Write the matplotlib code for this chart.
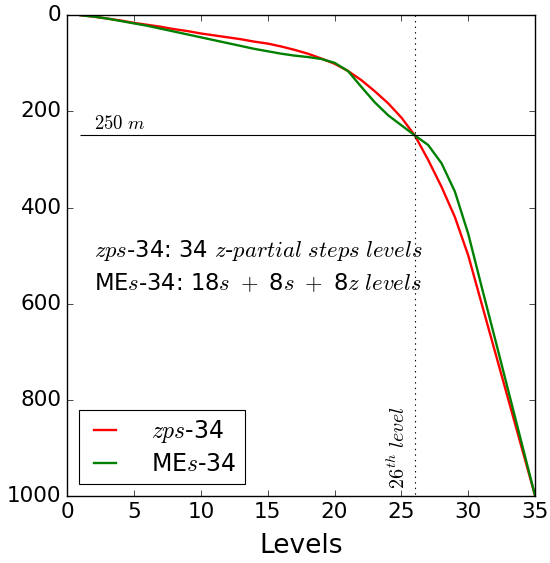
import matplotlib
matplotlib.use('Agg')
import matplotlib.pyplot as plt

# vertical levels and their depths (m)
levels = list(range(1, 36))
zps_depth = [0, 3, 7, 11, 16, 20, 24, 29, 33, 38,
             42, 46, 50, 55, 59, 65, 72, 80, 90, 101,
             116, 135, 158, 183, 213, 250, 301, 357, 420, 500,
             600, 700, 800, 900, 1000]
mes_depth = [0, 3, 7, 12, 17, 22, 28, 34, 40, 46,
             52, 58, 64, 70, 75, 80, 84, 87, 91, 99,
             116, 149, 181, 208, 229, 250, 270, 308, 367, 455,
             565, 673, 782, 891, 1000]

ref_depth = 250
ref_level = 26

plt.style.use('classic')
plt.rcParams['mathtext.fontset'] = 'cm'
plt.rcParams['font.family'] = ['DejaVu Sans']

fig = plt.figure(figsize=(5.5, 5.63), dpi=100, facecolor='white')
ax = fig.add_axes([0.122, 0.119, 0.851, 0.854])

ax.plot(levels, zps_depth, color='red', lw=1.7, label=r'$zps$-34')
ax.plot(levels, mes_depth, color='green', lw=1.7, label=r'ME$s$-34')

ax.hlines(ref_depth, 1, 35, color='black', lw=0.8)
ax.vlines(ref_level, 0, 1000, color='black', lw=0.8, linestyles='dotted')

ax.text(2, ref_depth - 5, r'$250\ m$', fontsize=13.5, va='bottom', ha='left')
ax.text(25.6, 985, r'$26^{th}\ level$', fontsize=14.5, rotation=90,
        va='bottom', ha='right')
ax.text(2, 490, r'$zps$-34: 34 $z$-$partial\ steps\ levels$', fontsize=16.3,
        va='center')
ax.text(2, 559, r'ME$s$-34: 18$s\ +$ 8$s\ +$ 8$z\ levels$', fontsize=16.3,
        va='center')

ax.set_xlim(0, 35)
ax.set_ylim(1000, 0)
ax.set_xticks(range(0, 36, 5))
ax.set_yticks(range(0, 1001, 200))
ax.tick_params(labelsize=15.5)
ax.set_xlabel('Levels', fontsize=19, labelpad=8)

leg = ax.legend(loc='lower left', fontsize=17, handlelength=1.5,
                handletextpad=1.2, borderaxespad=0.5, labelspacing=0.3,
                borderpad=0.35)
leg.get_frame().set_linewidth(0.8)

fig.savefig('out.png', dpi=100, facecolor='white')
